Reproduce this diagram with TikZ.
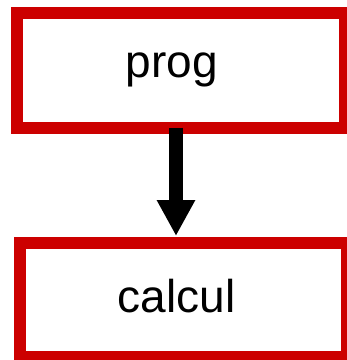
\documentclass[tikz,border=0pt]{standalone}
\usepackage{fontspec}
\setmainfont{Liberation Sans}
\usetikzlibrary{arrows.meta}
\definecolor{boxred}{HTML}{CC0000}
\tikzset{
  box/.style={draw=boxred, line width=12pt, rectangle, inner sep=0pt, outer sep=0pt, fill=white},
  lbl/.style={anchor=base, inner sep=0pt, font=\fontsize{46}{50}\selectfont, text=black},
  arr/.style={draw=black, line width=13.5pt, -{Triangle[length=36pt, width=36pt]}}
}
\begin{document}
\begin{tikzpicture}[x=1pt, y=1pt]
\useasboundingbox (0,0) rectangle (347,360);
\clip (0,0) rectangle (347,360);
\node[box, minimum width=328pt, minimum height=114.5pt] (top) at (181,289.75) {};
\node[box, minimum width=326.5pt, minimum height=114pt] (bot) at (183.75,60) {};
\node[lbl] (tprog) at (172,283) {prog};
\node[lbl] (tcalc) at (176.5,48) {calcul};
\draw[arr] ([xshift=-5pt]top.south) -- ([xshift=-7.75pt,yshift=7pt]bot.north);
\end{tikzpicture}
\end{document}
